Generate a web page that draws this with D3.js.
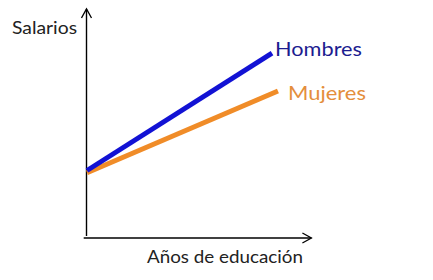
<!DOCTYPE html>
<html><head><meta charset="utf-8">
<script src="https://cdn.jsdelivr.net/npm/d3@7"></script>
<style>html,body{margin:0;padding:0;background:#fff;}svg{display:block;}</style>
</head><body>
<script>
// Data (conceptual chart: salary vs years of education)
const seriesNames = ["Mujeres", "Hombres"];
const mujeresX = [0, 8.68];
const mujeresY = [2.9, 6.53];
const hombresX = [0, 8.41];
const hombresY = [3.0, 8.22];
const axisLabels = ["Salarios", "Años de educación"];

const W = 433, H = 280;
const svg = d3.select("body").append("svg").attr("width", W).attr("height", H);
const x = d3.scaleLinear().domain([0, 10]).range([87, 307]);
const y = d3.scaleLinear().domain([0, 10]).range([238, 13]);

const defs = svg.append("defs");
defs.append("marker").attr("id", "arr").attr("viewBox", "0 0 12 12")
  .attr("refX", 10).attr("refY", 6).attr("markerWidth", 12).attr("markerHeight", 12)
  .attr("markerUnits", "userSpaceOnUse").attr("orient", "auto")
  .append("path").attr("d", "M1,1 L10,6 L1,11").attr("fill", "none")
  .attr("stroke", "#000").attr("stroke-width", 1.3);

// axes
svg.append("line").attr("x1", x(0) - 0.5).attr("x2", x(0) - 0.5)
  .attr("y1", y(0) - 2).attr("y2", y(10.18))
  .attr("stroke", "#000").attr("stroke-width", 1.4).attr("marker-end", "url(#arr)");
svg.append("line").attr("x1", x(-0.15)).attr("x2", x(10.2))
  .attr("y1", y(0)).attr("y2", y(0))
  .attr("stroke", "#000").attr("stroke-width", 1.4).attr("marker-end", "url(#arr)");

const line = d3.line().x(d => x(d[0])).y(d => y(d[1]));
const series = [
  {name: "Mujeres", xs: mujeresX, ys: mujeresY, color: "#f08c28", text: "#e48e3c"},
  {name: "Hombres", xs: hombresX, ys: hombresY, color: "#1212d4", text: "#1c1c90"}
];
series.forEach(s => {
  svg.append("path").datum(s.xs.map((v, i) => [v, s.ys[i]]))
    .attr("d", line).attr("fill", "none").attr("stroke", s.color)
    .attr("stroke-width", 5).attr("stroke-linecap", "butt");
});

const font = "Lato, 'Open Sans', sans-serif";
// series labels
const lbl = [
  {s: series[1], x: 275, y: 56, w: 87},
  {s: series[0], x: 288, y: 100, w: 78}
];
lbl.forEach(l => {
  svg.append("text").attr("x", l.x).attr("y", l.y).text(l.s.name)
    .attr("font-family", font).attr("font-size", 20).attr("fill", l.s.text)
    .attr("textLength", l.w).attr("lengthAdjust", "spacingAndGlyphs");
});
svg.append("text").attr("x", 12).attr("y", 34).text(axisLabels[0])
  .attr("font-family", font).attr("font-size", 17).attr("fill", "#222")
  .attr("textLength", 65).attr("lengthAdjust", "spacingAndGlyphs");
svg.append("text").attr("x", 147).attr("y", 263).text(axisLabels[1])
  .attr("font-family", font).attr("font-size", 18).attr("fill", "#222")
  .attr("textLength", 156).attr("lengthAdjust", "spacingAndGlyphs");
</script>
</body></html>
